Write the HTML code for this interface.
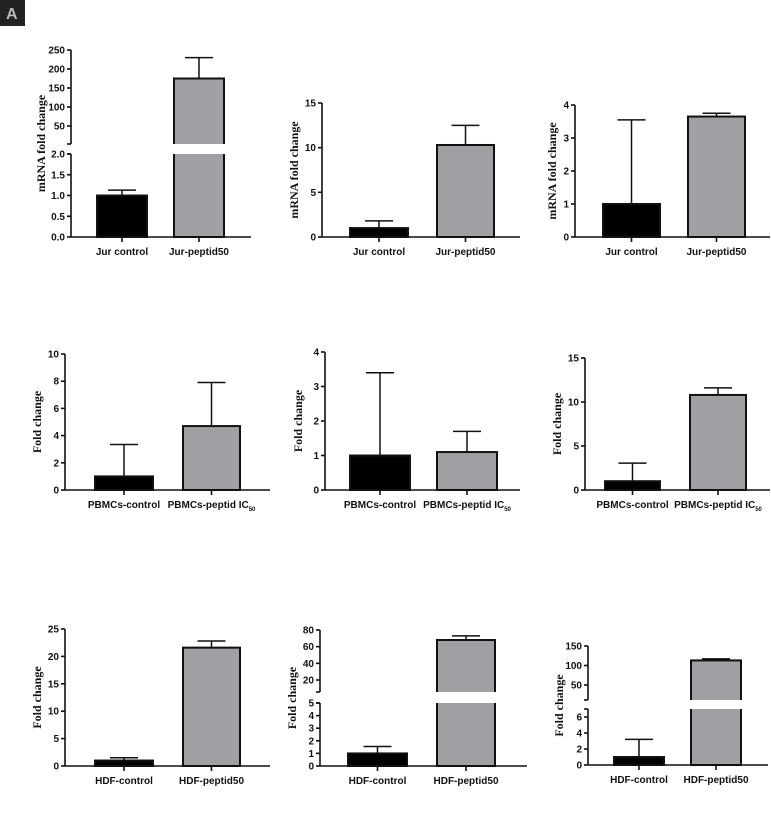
<!DOCTYPE html>
<html><head><meta charset="utf-8"><style>
body{margin:0;background:#fff;width:771px;height:812px;overflow:hidden}
svg text{font-family:"Liberation Sans",sans-serif;font-weight:bold;fill:#111}
.yt{font-family:"Liberation Serif",serif;font-size:12px}
</style></head><body>
<svg id="fig" width="771" height="812" viewBox="0 0 771 812" xmlns="http://www.w3.org/2000/svg">
<rect x="0" y="0" width="25" height="26" fill="#222"/>
<text x="6" y="19" font-size="16" style="fill:#bbb">A</text>
</svg>
<script>
// Data
const categories1 = ["Jur control","Jur-peptid50"];
const categories2 = ["PBMCs-control","PBMCs-peptid IC"];
const categories3 = ["HDF-control","HDF-peptid50"];
const p1Values = [1.0, 175]; const p1Errors = [1.13, 230];
const p2Values = [1.0, 10.3]; const p2Errors = [1.8, 12.5];
const p3Values = [1.0, 3.65]; const p3Errors = [3.55, 3.75];
const p4Values = [1.0, 4.7]; const p4Errors = [3.35, 7.9];
const p5Values = [1.0, 1.1]; const p5Errors = [3.4, 1.7];
const p6Values = [1.0, 10.8]; const p6Errors = [3.05, 11.6];
const p7Values = [1.0, 21.6]; const p7Errors = [1.5, 22.8];
const p8Values = [1.0, 68]; const p8Errors = [1.55, 73];
const p9Values = [1.0, 113]; const p9Errors = [3.2, 117];
const p1TicksLow = ["0.0","0.5","1.0","1.5","2.0"]; const p1TicksHigh = ["50","100","150","200","250"];
const p2Ticks = ["0","5","10","15"];
const p3Ticks = ["0","1","2","3","4"];
const p4Ticks = ["0","2","4","6","8","10"];
const p5Ticks = ["0","1","2","3","4"];
const p6Ticks = ["0","5","10","15"];
const p7Ticks = ["0","5","10","15","20","25"];
const p8TicksLow = ["0","1","2","3","4","5"]; const p8TicksHigh = ["20","40","60","80"];
const p9TicksLow = ["0","2","4","6"]; const p9TicksHigh = ["50","100","150"];

const svg=document.getElementById('fig');
const NS='http://www.w3.org/2000/svg';
function el(t,a,parent){const e=document.createElementNS(NS,t);for(const k in a)e.setAttribute(k,a[k]);(parent||svg).appendChild(e);return e;}

function panel(cfg,idx){
  const g=el('g',{});
  
  
  const segs=cfg.segs;
  function yOf(v){
    for(const s of segs){ if(v<=s.hi||s===segs[segs.length-1]){ const vv=Math.max(v,s.lo); return s.ybot-(vv-s.lo)/(s.hi-s.lo)*(s.ybot-s.ytop);} }
  }
  segs.forEach((s,si)=>{
    const ax=el('line',{x1:cfg.ax,x2:cfg.ax,y1:s.ybot,y2:s.ytop,stroke:'#111','stroke-width':1.6},g);
    
    
    if(si>0){ el('line',{x1:cfg.ax-4,x2:cfg.ax,y1:s.ybot,y2:s.ybot,stroke:'#111','stroke-width':1.6},g); }
    if(si<segs.length-1){ el('line',{x1:cfg.ax-4,x2:cfg.ax,y1:s.ytop,y2:s.ytop,stroke:'#111','stroke-width':1.6},g); }
    s.ticks.forEach(t=>{
      const v=parseFloat(t); const y=s.ybot-(v-s.lo)/(s.hi-s.lo)*(s.ybot-s.ytop);
      el('line',{x1:cfg.ax-4,x2:cfg.ax,y1:y,y2:y,stroke:'#111','stroke-width':1.6},g);
      const tx=el('text',{x:cfg.ax-6,y:y+3.5,'text-anchor':'end','font-size':10},g);
      tx.textContent=t;
      
      
    });
  });
  const y0=segs[0].ybot;
  const xa=el('line',{x1:cfg.ax,x2:cfg.axEnd,y1:y0,y2:y0,stroke:'#111','stroke-width':1.6},g);
  
  
  const fills=['#000','#a0a0a4'];
  cfg.vals.forEach((v,i)=>{
    const x1=cfg.bars[i][0],x2=cfg.bars[i][1],cx=(x1+x2)/2;
    const yv=yOf(v), ye=yOf(cfg.errs[i]);
    const w=el('line',{x1:cx,x2:cx,y1:yv,y2:ye,stroke:'#111','stroke-width':1.5},g);
    
    
    el('line',{x1:cx-14,x2:cx+14,y1:ye,y2:ye,stroke:'#111','stroke-width':1.5},g);
    const b=el('rect',{x:x1,y:yv,width:x2-x1,height:y0-yv,fill:fills[i],stroke:'#111','stroke-width':2},g);
    
    
    if(segs.length>1 && v>segs[0].hi){
      el('rect',{x:x1-2,y:segs[1].ybot,width:x2-x1+4,height:segs[0].ytop-segs[1].ybot,fill:'#fff'},g);
    }
    el('line',{x1:cx,x2:cx,y1:y0,y2:y0+5,stroke:'#111','stroke-width':1.6},g);
    const lb=el('text',{x:cx,y:y0+18,'text-anchor':'middle','font-size':10},g);
    lb.textContent=cfg.cats[i];
    if(cfg.sub && i===1){ const ts=el('tspan',{'font-size':6,dy:3},lb); ts.textContent='50'; }
    
    
  });
  const midY=(segs[0].ybot+segs[segs.length-1].ytop)/2;
  const yt=el('text',{class:'yt',x:cfg.tx,y:midY,'text-anchor':'middle',transform:`rotate(-90 ${cfg.tx} ${midY})`},g);
  yt.textContent=cfg.title;
  
  
}

const panels=[
 {ax:71,axEnd:251,tx:45,title:'mRNA fold change',cats:categories1,vals:p1Values,errs:p1Errors,bars:[[97,147],[174,224]],
  segs:[{lo:0,hi:2,ybot:237,ytop:154,ticks:p1TicksLow},{lo:2.6,hi:250,ybot:144,ytop:50,ticks:p1TicksHigh}]},
 {ax:322,axEnd:520,tx:298,title:'mRNA fold change',cats:categories1,vals:p2Values,errs:p2Errors,bars:[[350,408],[437,494]],
  segs:[{lo:0,hi:15,ybot:237,ytop:103,ticks:p2Ticks}]},
 {ax:575,axEnd:770,tx:556,title:'mRNA fold change',cats:categories1,vals:p3Values,errs:p3Errors,bars:[[603,660],[688,745]],
  segs:[{lo:0,hi:4,ybot:237,ytop:105,ticks:p3Ticks}]},
 {ax:65,axEnd:270,tx:41,title:'Fold change',cats:categories2,sub:true,vals:p4Values,errs:p4Errors,bars:[[95,153],[183,240]],
  segs:[{lo:0,hi:10,ybot:490,ytop:354,ticks:p4Ticks}]},
 {ax:325,axEnd:520,tx:302,title:'Fold change',cats:categories2,sub:true,vals:p5Values,errs:p5Errors,bars:[[350,410],[437,497]],
  segs:[{lo:0,hi:4,ybot:490,ytop:352,ticks:p5Ticks}]},
 {ax:585,axEnd:770,tx:561,title:'Fold change',cats:categories2,sub:true,vals:p6Values,errs:p6Errors,bars:[[605,660],[690,746]],
  segs:[{lo:0,hi:15,ybot:490,ytop:358,ticks:p6Ticks}]},
 {ax:65,axEnd:270,tx:41,title:'Fold change',cats:categories3,vals:p7Values,errs:p7Errors,bars:[[95,153],[183,240]],
  segs:[{lo:0,hi:25,ybot:766,ytop:629,ticks:p7Ticks}]},
 {ax:320,axEnd:527,tx:296,title:'Fold change',cats:categories3,vals:p8Values,errs:p8Errors,bars:[[348,407],[437,495]],
  segs:[{lo:0,hi:5,ybot:766,ytop:703,ticks:p8TicksLow},{lo:5.6,hi:80,ybot:692,ytop:630,ticks:p8TicksHigh}]},
 {ax:588,axEnd:768,tx:563,title:'Fold change',cats:categories3,vals:p9Values,errs:p9Errors,bars:[[614,664],[691,741]],
  segs:[{lo:0,hi:7,ybot:765,ytop:709,ticks:p9TicksLow},{lo:11.5,hi:150,ybot:700,ytop:646,ticks:p9TicksHigh}]}
];
panels.forEach((p,i)=>panel(p,i+1));
</script>
</body></html>
